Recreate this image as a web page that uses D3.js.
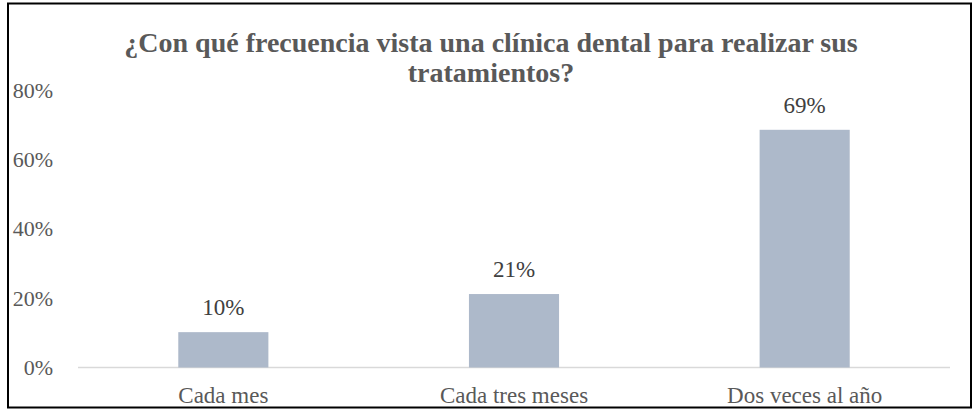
<!DOCTYPE html>
<html><head><meta charset="utf-8">
<script src="https://cdn.jsdelivr.net/npm/d3@7"></script>
<style>html,body{margin:0;padding:0;background:#fff;} svg text{font-family:"Liberation Serif","Times New Roman",Tinos,serif;}</style>
</head><body>
<svg id="c" width="976" height="412"></svg>
<script>
const categories = ["Cada mes", "Cada tres meses", "Dos veces al año"];
const values = [0.102, 0.212, 0.686];
const yTicks = [0, 0.2, 0.4, 0.6, 0.8];
const titleLines = ["¿Con qué frecuencia vista una clínica dental para realizar sus", "tratamientos?"];

const svg = d3.select("#c");
const font = '"Liberation Serif","Times New Roman",serif';
const txt = "#595959";

svg.append("rect").attr("x", 8).attr("y", 3.5).attr("width", 963).attr("height", 404)
  .attr("fill", "#fff").attr("stroke", "#000").attr("stroke-width", 2);

const x = d3.scaleBand().domain(categories).range([78, 950]).paddingInner(0).paddingOuter(0);
const y = d3.scaleLinear().domain([0, 0.8]).range([367.5, 90.3]);
const barW = x.bandwidth() * 0.31;

// y tick labels
const yAxis = d3.axisLeft(y).tickValues(yTicks).tickFormat(d3.format(".0%")).tickSize(0).tickPadding(0);
const ya = svg.append("g").attr("transform", "translate(53,0)").call(yAxis);
ya.attr("font-family", null);
ya.select(".domain").remove();
ya.selectAll("text").style("font-family", font).attr("font-size", 22).attr("fill", txt);

// baseline
svg.append("line").attr("x1", 78).attr("x2", 950).attr("y1", y(0)).attr("y2", y(0))
  .attr("stroke", "#d9d9d9").attr("stroke-width", 1.5);

// bars
svg.selectAll("rect.bar").data(categories).enter().append("rect").attr("class", "bar")
  .attr("x", d => x(d) + x.bandwidth() / 2 - barW / 2)
  .attr("y", (d, i) => y(values[i]))
  .attr("width", barW)
  .attr("height", (d, i) => y(0) - y(values[i]))
  .attr("fill", "#adb9ca");

// value labels
svg.selectAll("text.val").data(categories).enter().append("text").attr("class", "val")
  .attr("x", d => x(d) + x.bandwidth() / 2)
  .attr("y", (d, i) => y(values[i]) - 17)
  .attr("text-anchor", "middle").style("font-family", font).attr("font-size", 23).attr("fill", "#404040")
  .text((d, i) => d3.format(".0%")(values[i]));

// x axis labels
const xAxis = d3.axisBottom(x).tickSize(0).tickPadding(0);
const xa = svg.append("g").attr("transform", "translate(0,403)").call(xAxis);
xa.attr("font-family", null);
xa.select(".domain").remove();
xa.selectAll("text").style("font-family", font).attr("font-size", 23).attr("fill", txt).attr("dy", 0).attr("y", 0);

// title
svg.append("text").attr("x", 491).attr("y", 52).attr("text-anchor", "middle")
  .style("font-family", font).attr("font-size", 28).attr("font-weight", "bold").attr("fill", txt)
  .selectAll("tspan").data(titleLines).enter().append("tspan")
  .attr("x", 491).attr("dy", (d, i) => i === 0 ? 0 : 30).text(d => d);
</script>
</body></html>
